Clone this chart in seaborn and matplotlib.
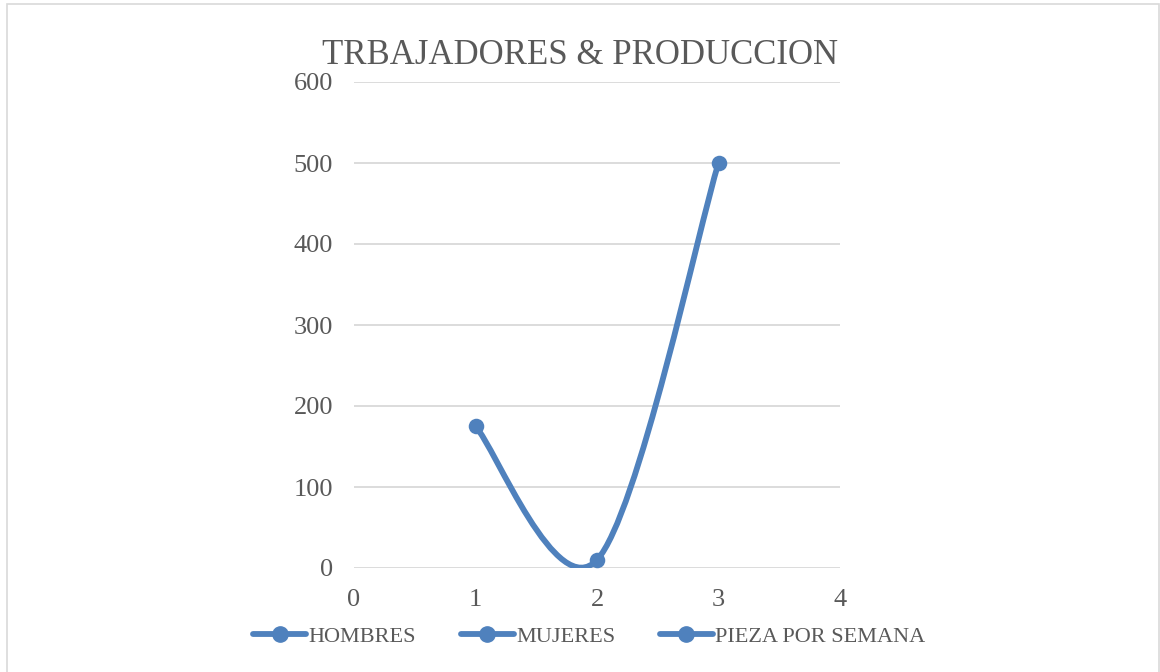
import numpy as np
import pandas as pd
import matplotlib
matplotlib.use("Agg")
import matplotlib.pyplot as plt
import seaborn as sns
from matplotlib.path import Path
from matplotlib.patches import PathPatch, Rectangle
from matplotlib.lines import Line2D

# data
x_vals = [1, 2, 3]
y_vals = [175, 10, 500]
series_names = ["HOMBRES", "MUJERES", "PIEZA POR SEMANA"]
title = "TRBAJADORES & PRODUCCION"

blue = "#4F81BD"
grey_txt = "#595959"
grid_col = "#D9D9D9"

sns.set_theme(style="white")
plt.rcParams["font.family"] = ["Liberation Serif", "DejaVu Serif"]

df = pd.DataFrame({"x": x_vals, "y": y_vals})

fig = plt.figure(figsize=(11.6, 6.72), dpi=100)
ax = fig.add_axes([354 / 1160, 1 - 568 / 672, 486 / 1160, 486 / 672])

# smoothed line like Excel (bezier through the points)
pts = np.column_stack([x_vals, y_vals]).astype(float)
verts = [tuple(pts[0])]
codes = [Path.MOVETO]
n = len(pts)
for i in range(n - 1):
    p0 = pts[i - 1] if i > 0 else pts[i]
    p1 = pts[i]
    p2 = pts[i + 1]
    p3 = pts[i + 2] if i + 2 < n else pts[i + 1]
    c1 = p1 + (p2 - p0) / 6
    c2 = p2 - (p3 - p1) / 6
    verts += [tuple(c1), tuple(c2), tuple(p2)]
    codes += [Path.CURVE4] * 3
ax.add_patch(PathPatch(Path(verts, codes), facecolor="none", edgecolor=blue,
                       lw=4.2, capstyle="round", zorder=3))

sns.scatterplot(data=df, x="x", y="y", ax=ax, color=blue, s=125,
                edgecolor=blue, linewidth=0, zorder=4, legend=False)

ax.set_xlim(0, 4)
ax.set_ylim(0, 600)
ax.set_xticks(range(0, 5))
ax.set_yticks(range(0, 601, 100))
ax.yaxis.grid(True, color=grid_col, lw=1.3)
ax.xaxis.grid(False)
for s in ax.spines.values():
    s.set_visible(False)
ax.tick_params(axis="both", length=0, labelsize=19, colors=grey_txt)
ax.tick_params(axis="y", pad=15)
ax.tick_params(axis="x", pad=15)
ax.set_xlabel("")
ax.set_ylabel("")
ax.set_facecolor("none")

fig.text(0.5, 1 - 64 / 672, title, ha="center", va="baseline",
         fontsize=25, color=grey_txt)

handles = [Line2D([0], [0], color=blue, lw=4.2, marker="o", markersize=11,
                  solid_capstyle="round") for _ in series_names]
leg = fig.legend(handles, series_names, loc="center", ncol=3,
                 bbox_to_anchor=(0.508, 1 - 637 / 672), frameon=False,
                 fontsize=16, handlelength=2.4, handletextpad=0.1,
                 columnspacing=2.0)
for t in leg.get_texts():
    t.set_color(grey_txt)

fig.patches.append(Rectangle((7 / 1160, -0.05), 1152 / 1160, 1.05 - 4 / 672,
                             transform=fig.transFigure, fill=False,
                             edgecolor="#D9D9D9", lw=1.2))

fig.savefig("out.png", dpi=100)
